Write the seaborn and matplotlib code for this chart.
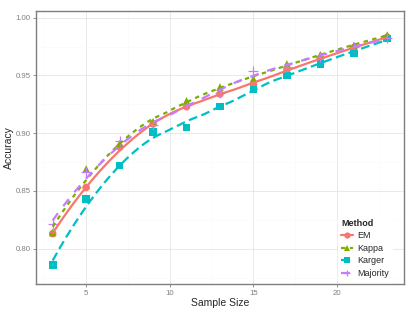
import numpy as np
import pandas as pd
import matplotlib
matplotlib.use("Agg")
import matplotlib.pyplot as plt
from matplotlib.lines import Line2D
import seaborn as sns

# data
sample_sizes = [3, 5, 7, 9, 11, 13, 15, 17, 19, 21, 23]
methods = ["EM", "Kappa", "Karger", "Majority"]
em_acc = [0.813, 0.853, 0.888, 0.908, 0.923, 0.934, 0.942, 0.955, 0.965, 0.974, 0.983]
kappa_acc = [0.814, 0.869, 0.891, 0.910, 0.928, 0.940, 0.947, 0.960, 0.968, 0.976, 0.985]
karger_acc = [0.786, 0.843, 0.872, 0.901, 0.905, 0.923, 0.938, 0.950, 0.960, 0.969, 0.982]
majority_acc = [0.821, 0.866, 0.893, 0.907, 0.924, 0.935, 0.954, 0.957, 0.966, 0.975, 0.982]

colors = {"EM": "#F8766D", "Kappa": "#7CAE00", "Karger": "#00BFC4", "Majority": "#C77CFF"}
markers = {"EM": "o", "Kappa": "^", "Karger": "s", "Majority": "+"}
dashes = {"EM": "", "Kappa": (2, 2), "Karger": (4, 2), "Majority": (4, 4)}


def loess(x, y, xs, span=0.75):
    """Local quadratic fit with tricube weights (like R's loess defaults)."""
    x = np.asarray(x, float)
    y = np.asarray(y, float)
    q = int(np.floor(len(x) * span))
    out = []
    for x0 in xs:
        d = np.abs(x - x0)
        h = np.sort(d)[q - 1] * 1.0001
        w = np.clip(1 - (d / h) ** 3, 0, None) ** 3
        coef = np.polyfit(x, y, 2, w=np.sqrt(w))
        out.append(np.polyval(coef, x0))
    return np.array(out)


series = {"EM": em_acc, "Kappa": kappa_acc, "Karger": karger_acc, "Majority": majority_acc}
points = pd.concat([pd.DataFrame({"Sample Size": sample_sizes, "Accuracy": v, "Method": m})
                    for m, v in series.items()], ignore_index=True)
grid = np.linspace(min(sample_sizes), max(sample_sizes), 80)
smooth = pd.concat([pd.DataFrame({"Sample Size": grid, "Accuracy": loess(sample_sizes, v, grid), "Method": m})
                    for m, v in series.items()], ignore_index=True)

sns.set_theme(style="white")
plt.rcParams["font.family"] = ["Liberation Sans", "DejaVu Sans"]

fig = plt.figure(figsize=(4.15, 3.12), dpi=100)
ax = fig.add_axes([0.0867, 0.0897, 0.8868, 0.875])

filled = points[points["Method"] != "Majority"]
sns.scatterplot(data=filled, x="Sample Size", y="Accuracy", hue="Method", style="Method",
                palette=colors, markers={m: markers[m] for m in methods[:3]}, s=30,
                linewidth=0, legend=False, ax=ax, zorder=3)
maj = points[points["Method"] == "Majority"]
ax.scatter(maj["Sample Size"], maj["Accuracy"], marker="+", s=45, color=colors["Majority"],
           linewidths=0.9, zorder=3)
sns.lineplot(data=smooth, x="Sample Size", y="Accuracy", hue="Method", style="Method",
             palette=colors, dashes=dashes, linewidth=1.6, legend=False, ax=ax, zorder=4)

ax.set_xlim(2, 24)
ax.set_ylim(0.7694, 1.0058)
ax.set_xticks([5, 10, 15, 20])
ax.set_yticks([0.80, 0.85, 0.90, 0.95, 1.00])
ax.set_yticklabels(["0.80", "0.85", "0.90", "0.95", "1.00"])
ax.set_xticks([2.5, 7.5, 12.5, 17.5, 22.5], minor=True)
ax.set_yticks([0.775, 0.825, 0.875, 0.925, 0.975], minor=True)
ax.grid(True, which="major", color="#E5E5E5", linewidth=0.6)
ax.grid(True, which="minor", color="#FAFAFA", linewidth=0.5)
ax.set_axisbelow(True)
for s in ax.spines.values():
    s.set_color("#7F7F7F")
    s.set_linewidth(1.0)
ax.tick_params(axis="both", which="major", length=2.5, width=0.6, color="#7F7F7F",
               labelsize=5.6, labelcolor="#7F7F7F", pad=1.5, bottom=True, left=True)
ax.tick_params(axis="both", which="minor", length=0)
ax.set_xlabel("Sample Size", fontsize=7.5, labelpad=1)
ax.set_ylabel("Accuracy", fontsize=7.5)
ax.yaxis.set_label_coords(-0.061, 0.5)

handles = [Line2D([0], [0], color=colors[m], marker=markers[m], markersize=4.5,
                  linewidth=1.6, linestyle="-" if m == "EM" else (0, dashes[m]),
                  markeredgewidth=0.9 if m == "Majority" else 0)
           for m in methods]
leg = ax.legend(handles, methods, title="Method", loc="lower right",
                bbox_to_anchor=(0.98, -0.008), fontsize=6.5, title_fontsize=6.5,
                frameon=True, handlelength=1.3, handletextpad=0.4, labelspacing=0.4,
                borderpad=0.4, alignment="left")
leg.get_frame().set_edgecolor("white")
leg.get_frame().set_facecolor("white")
leg.get_frame().set_alpha(1)
leg.get_title().set_fontweight("bold")

fig.savefig("out.png", dpi=100)
